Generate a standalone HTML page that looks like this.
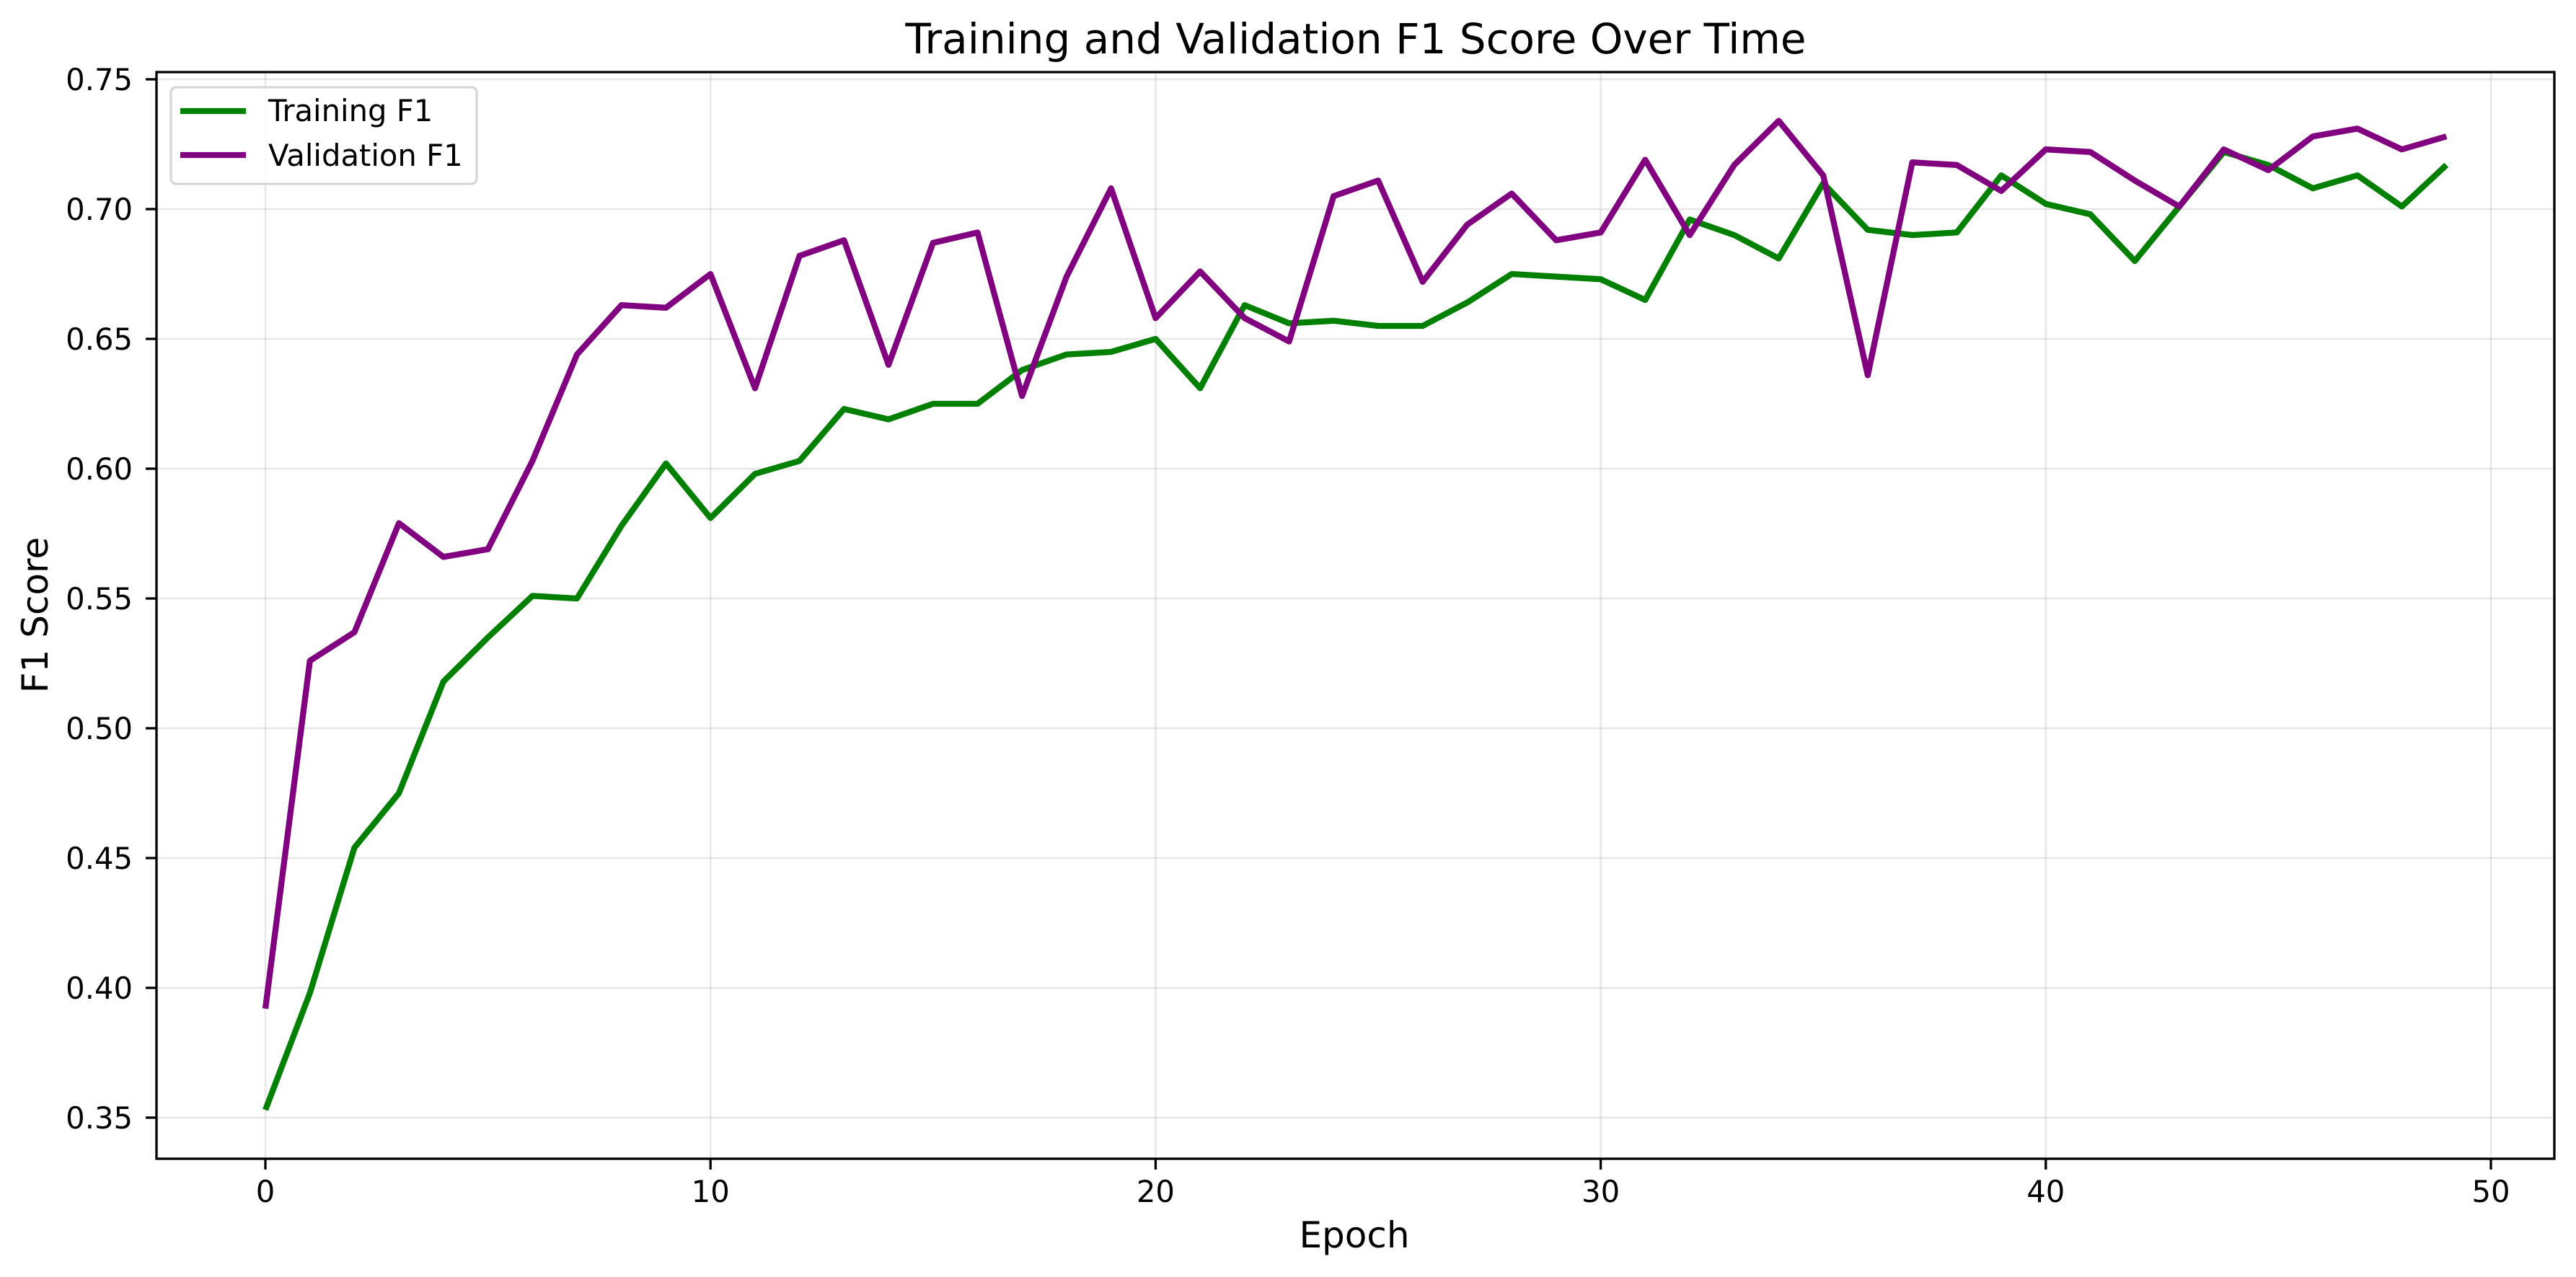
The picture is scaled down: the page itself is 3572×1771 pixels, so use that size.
<!DOCTYPE html>
<html><head><meta charset="utf-8"><style>
body{margin:0;background:#fff}
svg{display:block;font-family:"DejaVu Sans","Liberation Sans",sans-serif}
</style></head><body>
<svg id="chart" width="3572" height="1771" viewBox="0 0 3572 1771">
<rect width="3572" height="1771" fill="#fff"/>
<g id="grid"></g>
<g id="ticks"></g>
<g id="series"></g>
<rect x="217" y="100" width="3325" height="1507" fill="none" stroke="#000" stroke-width="3.3"/>
<text x="1880" y="74" font-size="58" text-anchor="middle">Training and Validation F1 Score Over Time</text>
<text x="1878" y="1730" font-size="50" text-anchor="middle">Epoch</text>
<text x="66" y="853" font-size="50" text-anchor="middle" transform="rotate(-90 66 853)">F1 Score</text>
<g>
<rect x="237" y="121" width="424" height="134" rx="7" fill="#fff" fill-opacity="0.8" stroke="#d6d6d6" stroke-width="3.3"/>
<g>
<line x1="250" y1="154" x2="341" y2="154" stroke="#008000" stroke-width="8.3"/>
<text x="372" y="168" font-size="41.7">Training F1</text></g>
<g>
<line x1="250" y1="215" x2="341" y2="215" stroke="#800080" stroke-width="8.3"/>
<text x="372" y="230" font-size="41.7">Validation F1</text></g>
</g>
</svg>
<script>
const epochs = Array.from({length:50},(_,i)=>i);
const trainingF1 = [0.353,0.398,0.454,0.475,0.518,0.535,0.551,0.550,0.578,0.602,0.581,0.598,0.603,0.623,0.619,0.625,0.625,0.638,0.644,0.645,0.650,0.631,0.663,0.656,0.657,0.655,0.655,0.664,0.675,0.674,0.673,0.665,0.696,0.690,0.681,0.710,0.692,0.690,0.691,0.713,0.702,0.698,0.680,0.701,0.722,0.717,0.708,0.713,0.701,0.717];
const validationF1 = [0.392,0.526,0.537,0.579,0.566,0.569,0.603,0.644,0.663,0.662,0.675,0.631,0.682,0.688,0.640,0.687,0.691,0.628,0.674,0.708,0.658,0.676,0.658,0.649,0.705,0.711,0.672,0.694,0.706,0.688,0.691,0.719,0.690,0.717,0.734,0.713,0.636,0.718,0.717,0.707,0.723,0.722,0.711,0.701,0.723,0.715,0.728,0.731,0.723,0.728];
const xTicks = [0,10,20,30,40,50];
const yTicks = [0.35,0.40,0.45,0.50,0.55,0.60,0.65,0.70,0.75];

const NS="http://www.w3.org/2000/svg";
const X = v => 368 + v*(3454-368)/50;
const Y = v => 1550 - (v-0.35)*(1550-110)/0.40;
function mk(tag, attrs, parent){const e=document.createElementNS(NS,tag);for(const k in attrs)e.setAttribute(k,attrs[k]);parent.appendChild(e);return e;}
const grid=document.getElementById('grid'), ticks=document.getElementById('ticks'), series=document.getElementById('series');
xTicks.forEach(t=>{
  const g=mk('line',{x1:X(t),x2:X(t),y1:100,y2:1607,stroke:'#b0b0b0','stroke-opacity':0.3,'stroke-width':2.5},grid);
  
  
  const tk=mk('line',{x1:X(t),x2:X(t),y1:1607,y2:1622,stroke:'#000','stroke-width':3.3},ticks);
  
  
  const tx=mk('text',{x:X(t),y:1667,'font-size':41.7,'text-anchor':'middle'},ticks);
  tx.textContent=t;
  
  
});
yTicks.forEach(t=>{
  const g=mk('line',{x1:217,x2:3542,y1:Y(t),y2:Y(t),stroke:'#b0b0b0','stroke-opacity':0.3,'stroke-width':2.5},grid);
  
  
  const tk=mk('line',{x1:202,x2:217,y1:Y(t),y2:Y(t),stroke:'#000','stroke-width':3.3},ticks);
  
  
  const tx=mk('text',{x:184,y:Y(t)+15,'font-size':41.7,'text-anchor':'end'},ticks);
  tx.textContent=t.toFixed(2);
  
  
});
function line(vals,color,name){
  const p=mk('polyline',{points:vals.map((v,i)=>X(epochs[i])+','+Y(v)).join(' '),fill:'none',stroke:color,'stroke-width':8.3,'stroke-linejoin':'round','stroke-linecap':'butt'},series);
  
  
}
line(trainingF1,'#008000','training-f1-line');
line(validationF1,'#800080','validation-f1-line');
</script>
</body></html>
